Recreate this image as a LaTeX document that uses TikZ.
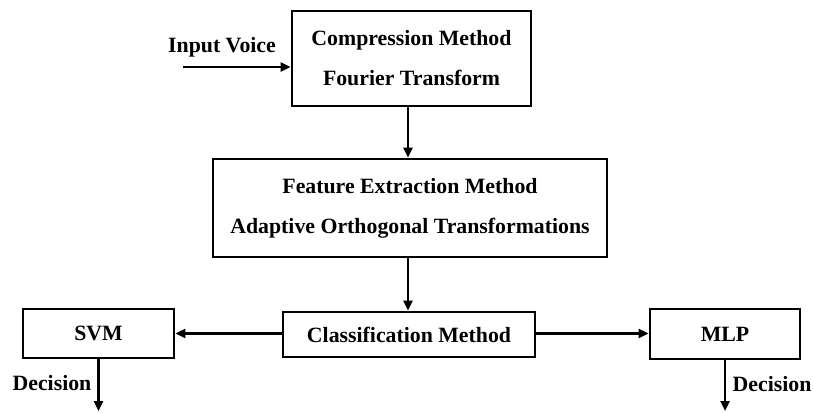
\documentclass[tikz,border=0pt]{standalone}
\usepackage{fontspec}
\setmainfont{Liberation Serif}
\usetikzlibrary{arrows.meta}
\begin{document}
\begin{tikzpicture}[x=1pt,y=-1pt,
  blk/.style={draw=black,line width=2.6pt,inner sep=0pt,align=center,
    font=\bfseries\fontsize{21.8}{40}\selectfont},
  lbl/.style={inner sep=0pt,font=\bfseries\fontsize{21.8}{24}\selectfont},
  arr/.style={line width=2.4pt,-{Triangle[length=10pt,width=9pt]}}]
\useasboundingbox (0,0) rectangle (813,412);
\node[blk,minimum width=239pt,minimum height=95pt] (comp) at (411.5,58.5)
  {Compression Method\\Fourier Transform};
\node[blk,minimum width=394pt,minimum height=98pt] (feat) at (410,208)
  {Feature Extraction Method\\Adaptive Orthogonal Transformations};
\node[blk,minimum width=252pt,minimum height=45pt] (cls) at (409,334.5)
  {Classification Method};
\node[blk,minimum width=151pt,minimum height=49pt] (svm) at (98.5,333.5) {SVM};
\node[blk,minimum width=150pt,minimum height=50pt] (mlp) at (725,334) {MLP};
\node[lbl] (inlbl) at (222,47) {Input Voice};
\node[lbl] (dec1) at (52,383) {Decision};
\node[lbl] (dec2) at (772,384) {Decision};
\coordinate (inS) at (183,67);
\coordinate (d1) at (98.5,411);
\coordinate (d2) at (725,411);
\draw[arr] (inS) -- (inS -| comp.west);
\draw[arr] (comp.south -| 408,0) -- (feat.north -| 408,0);
\draw[arr] (feat.south -| 408,0) -- (cls.north -| 408,0);
\draw[arr] (cls.west |- 0,333.5) -- (svm.east |- 0,333.5);
\draw[arr] (cls.east |- 0,333.5) -- (mlp.west |- 0,333.5);
\draw[arr] (svm.south) -- (d1);
\draw[arr] (mlp.south) -- (d2);
\end{tikzpicture}
\end{document}
